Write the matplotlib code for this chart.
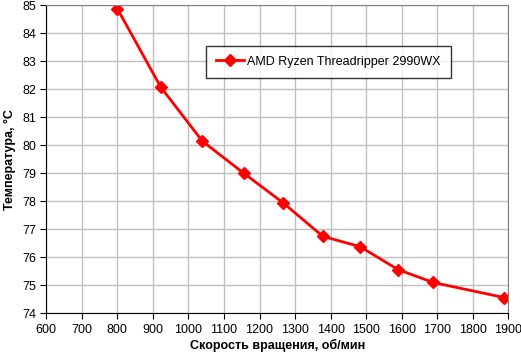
import matplotlib
matplotlib.use('Agg')
import matplotlib.pyplot as plt

# скорость вращения и температура
rpm = [800, 922, 1039, 1155, 1266, 1378, 1483, 1590, 1689, 1889]
temp = [84.88, 82.08, 80.15, 79.01, 77.95, 76.75, 76.38, 75.56, 75.10, 74.56]
series_name = 'AMD Ryzen Threadripper 2990WX'

plt.rcParams['font.family'] = ['Liberation Sans', 'DejaVu Sans']

fig = plt.figure(figsize=(5.21, 3.55), dpi=100)
ax = fig.add_axes([0.0889, 0.1175, 0.8867, 0.8675])

ax.plot(rpm, temp, color='#ff0000', lw=2, marker='D', markersize=6,
        markeredgecolor='#ff0000', label=series_name)

ax.set_xlim(600, 1900)
ax.set_ylim(74, 85)
ax.set_xticks(range(600, 1901, 100))
ax.set_yticks(range(74, 86))
ax.grid(True, color='#c0c0c0', lw=1)
ax.set_axisbelow(True)
ax.tick_params(labelsize=9, length=4, direction='out', color='black')

for s in ['top', 'right']:
    ax.spines[s].set_color('#808080')
for s in ['left', 'bottom']:
    ax.spines[s].set_color('black')

ax.set_xlabel('Скорость вращения, об/мин', fontsize=9, fontweight='bold', labelpad=2)
ax.set_ylabel('Температура, °С', fontsize=9, fontweight='bold', labelpad=4)

leg = ax.legend(loc='center', bbox_to_anchor=(0.611, 0.8166), fontsize=9,
                frameon=True, fancybox=False, edgecolor='black',
                handlelength=2.2, handletextpad=0.3, borderpad=0.8)
leg.get_frame().set_linewidth(1)

fig.savefig('out.png', dpi=100)
